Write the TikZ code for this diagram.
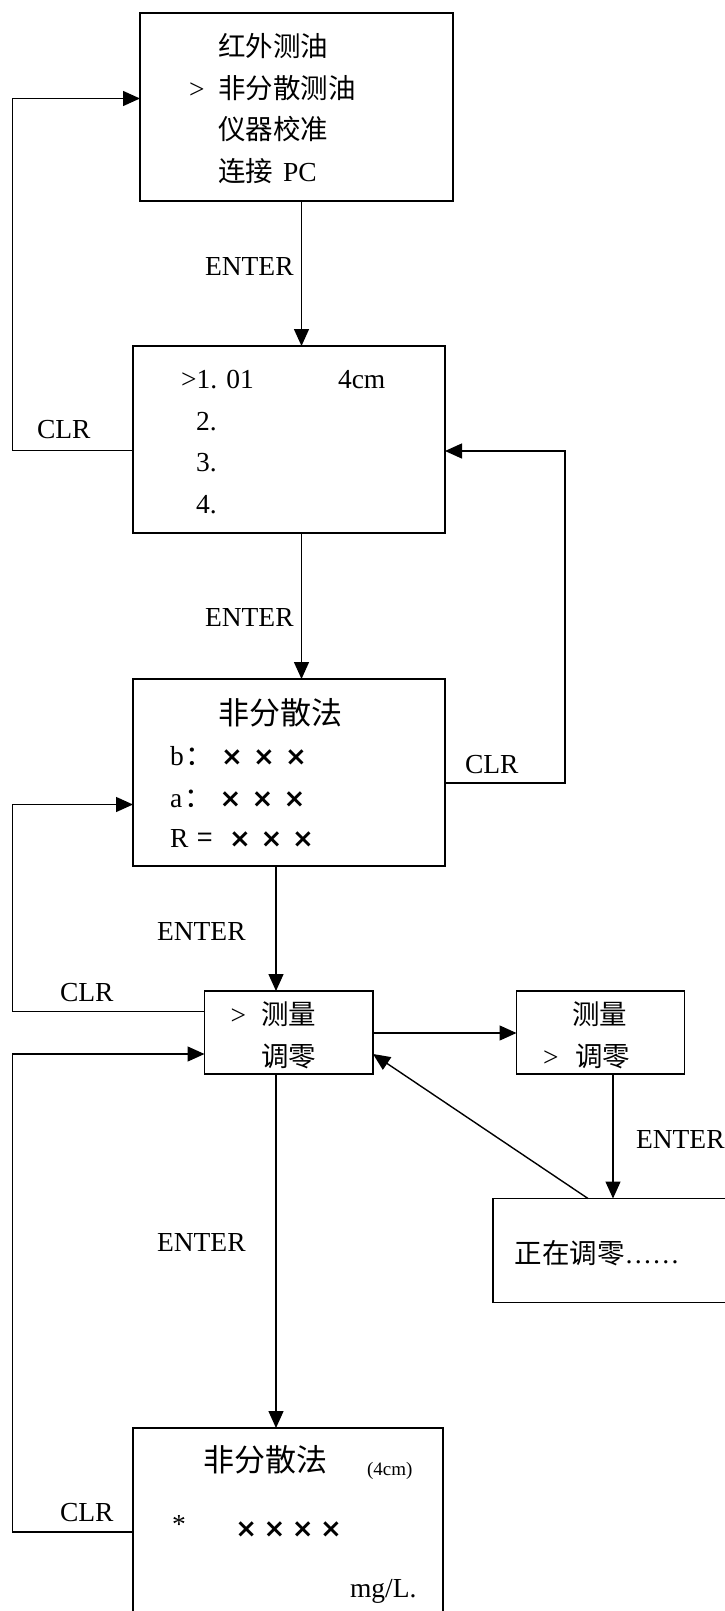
\documentclass[tikz,border=0pt]{standalone}
\usepackage{fontspec}
\setmainfont{Liberation Serif}
\newfontfamily\cjk{Noto Sans CJK SC}
\newfontfamily\djv{DejaVu Sans}
\usetikzlibrary{arrows.meta}
\newcommand\lat{\fontsize{27.5pt}{33pt}\selectfont}
\newcommand\zh{\cjk\fontsize{27.5pt}{33pt}\selectfont}
\newcommand\ttl{\cjk\fontsize{31pt}{36pt}\selectfont}
\newcommand\xg{{\djv\bfseries\fontsize{26pt}{30pt}\selectfont ×}}
\newcommand\xc[1]{\makebox[#1]{\xg}}
\begin{document}
\begin{tikzpicture}[x=1pt,y=-1pt,line width=1.4pt,
  box/.style={draw,rectangle,inner sep=0pt,outer sep=0pt,anchor=north west},
  txt/.style={anchor=base west,inner sep=0pt,outer sep=0pt},
  arr/.style={-{Triangle[length=17pt,width=15pt]}}]
\useasboundingbox (0,0) rectangle (725,1611);
\fill[white] (0,0) rectangle (725,1611);
\clip (0,0) rectangle (725,1611);
% boxes
\node[box,minimum width=313pt,minimum height=188pt] (b1) at (140,13) {};
\node[box,minimum width=312pt,minimum height=187pt] (b2) at (133,346) {};
\node[box,minimum width=312pt,minimum height=187pt] (b3) at (133,679) {};
\node[box,minimum width=168.5pt,minimum height=83pt] (b4) at (204.5,991) {};
\node[box,minimum width=168pt,minimum height=83pt] (b5) at (516.5,991) {};
\node[box,minimum width=260pt,minimum height=104pt] (b6) at (493,1198.5) {};
\node[box,minimum width=310pt,minimum height=220pt] (b7) at (133,1428) {};
% box texts
\node[txt] (t11) at (218,56.6) {\zh 红外测油};
\node[txt] (t12) at (189,98.3) {\lat\makebox[29pt][l]{>}\zh 非分散测油};
\node[txt] (t13) at (218,139.3) {\zh 仪器校准};
\node[txt] (t14) at (218,181.3) {{\zh 连接}\hspace{10pt}{\lat PC}};
\node[txt] (t21) at (181,388.5) {\lat\makebox[157pt][l]{>1. 01}4cm};
\node[txt] (t22) at (196,430) {\lat 2.};
\node[txt] (t23) at (196,471.5) {\lat 3.};
\node[txt] (t24) at (196,513) {\lat 4.};
\node[txt] (t31) at (218.5,724) {\ttl 非分散法};
\node[txt] (t32) at (170,765) {\lat\makebox[46pt][l]{b\hspace{2pt}{\zh ：}}\xc{32pt}\xc{32pt}\xc{32pt}};
\node[txt] (t33) at (170,807) {\lat\makebox[44.5pt][l]{a\hspace{2pt}{\zh ：}}\xc{32pt}\xc{32pt}\xc{32pt}};
\node[txt] (t34) at (170,847) {\lat\makebox[54.25pt][l]{R\hspace{9pt}{\zh =}}\xc{31.5pt}\xc{31.5pt}\xc{31.5pt}};
\node[txt] (t41) at (230.5,1024.3) {\lat\makebox[30.5pt][l]{>}\zh 测量};
\node[txt] (t42) at (261,1066) {\zh 调零};
\node[txt] (t51) at (572,1024.3) {\zh 测量};
\node[txt] (t52) at (543,1066) {\lat\makebox[32pt][l]{>}\zh 调零};
\node[txt] (t61) at (514.5,1263) {{\zh 正在调零}{\lat ……}};
\node[txt] (t71) at (203,1471.6) {\ttl 非分散法};
\node[txt] (t72) at (367,1475.5) {\fontsize{19pt}{22pt}\selectfont (4cm)};
\node[txt] (t73) at (172,1533) {\lat *};
\node[txt] (t74) at (232,1537) {\xc{28.3pt}\xc{28.3pt}\xc{28.3pt}\xc{28.3pt}};
\node[txt] (t75) at (350,1597) {\lat mg/L.};
% labels
\node[txt] (e1) at (205,275) {\lat ENTER};
\node[txt] (e2) at (205,626.5) {\lat ENTER};
\node[txt] (e3) at (157,940) {\lat ENTER};
\node[txt] (e4) at (157,1251.7) {\lat ENTER};
\node[txt] (e5) at (636,1148) {\lat ENTER};
\node[txt] (c1) at (37,438.5) {\lat CLR};
\node[txt] (c2) at (465,773) {\lat CLR};
\node[txt] (c3) at (60,1001.7) {\lat CLR};
\node[txt] (c4) at (60,1521.7) {\lat CLR};
% helper coordinates
\coordinate (xa) at (301.5,0);
\coordinate (xb) at (276,0);
\coordinate (xc) at (613,0);
\coordinate (xd) at (588,0);
\coordinate (ya) at (0,1033);
\coordinate (yb) at (0,1054);
\coordinate (p1) at (12.5,450.5);
\coordinate (p2) at (12.5,98.5);
\coordinate (p3) at (565,783);
\coordinate (p4) at (565,451);
\coordinate (p5) at (12.5,1011.5);
\coordinate (p6) at (12.5,804.5);
\coordinate (p7) at (12.5,1532);
\coordinate (p8) at (12.5,1054);
% connectors
\draw[arr] (b1.south -| xa) -- (b2.north -| xa);
\draw[arr] (b2.south -| xa) -- (b3.north -| xa);
\draw[arr] (b3.south -| xb) -- (b4.north -| xb);
\draw[arr] (b4.south -| xb) -- (b7.north -| xb);
\draw[arr] (b4.east |- ya) -- (b5.west |- ya);
\draw[arr] (b5.south -| xc) -- (b6.north -| xc);
\draw[arr] (b6.north -| xd) -- (b4.east |- yb);
\draw[arr] (b2.west |- p1) -- (p1) -- (p2) -- (b1.west |- p2);
\draw[arr] (b3.east |- p3) -- (p3) -- (p4) -- (b2.east |- p4);
\draw[arr] (b4.west |- p5) -- (p5) -- (p6) -- (b3.west |- p6);
\draw[arr] (b7.west |- p7) -- (p7) -- (p8) -- (b4.west |- p8);
\end{tikzpicture}
\end{document}
